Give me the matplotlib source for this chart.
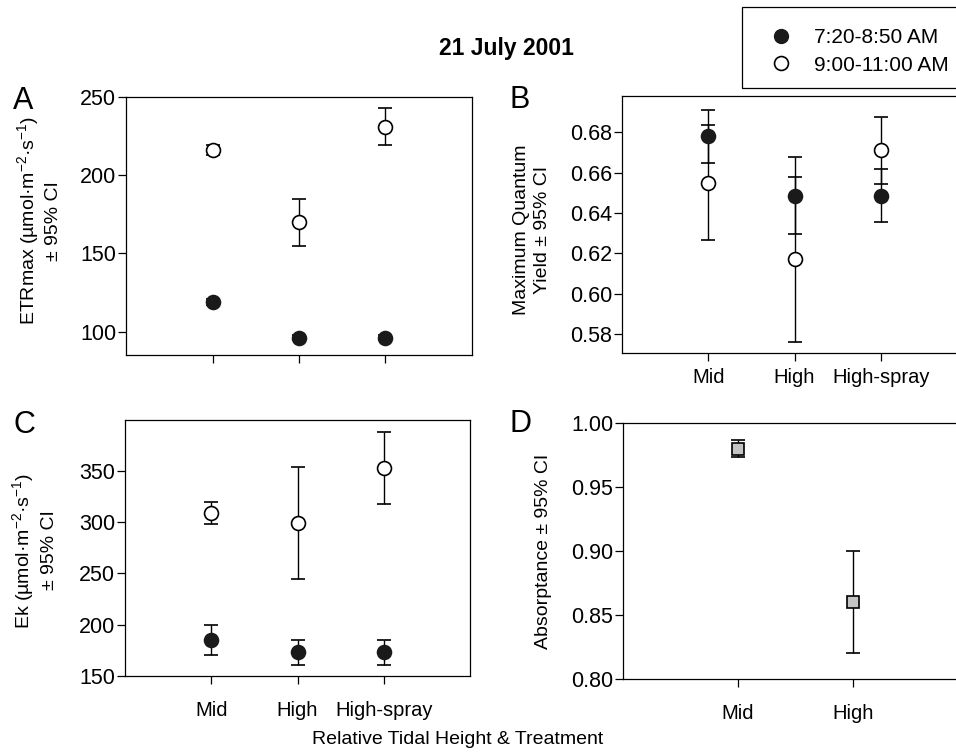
import matplotlib
matplotlib.use("Agg")
import matplotlib.pyplot as plt
from matplotlib.lines import Line2D
from matplotlib.patches import Rectangle

plt.rcParams['font.family'] = ['Liberation Sans', 'DejaVu Sans']
plt.rcParams['mathtext.fontset'] = 'custom'
plt.rcParams['mathtext.rm'] = 'Liberation Sans'
plt.rcParams['mathtext.it'] = 'Liberation Sans:italic'
plt.rcParams['mathtext.bf'] = 'Liberation Sans:bold'
plt.rcParams['axes.linewidth'] = 0.9

# data
sites = ['Mid', 'High', 'High-spray']
abs_sites = ['Mid', 'High']

etr_early = [119, 96, 96]
etr_early_ci = [2, 1.5, 1.5]
etr_late = [216, 170, 231]
etr_late_ci = [3, 15, 12]

fv_early = [0.678, 0.6486, 0.6486]
fv_early_ci = [0.013, 0.019, 0.013]
fv_late = [0.655, 0.617, 0.671]
fv_late_ci = [0.0285, 0.041, 0.0167]

ek_early = [185, 173, 173]
ek_early_ci = [15, 12.3, 12.3]
ek_late = [309, 299, 353]
ek_late_ci = [11, 54.5, 35]

absorp = [0.980, 0.860]
absorp_ci = [0.0068, 0.040]

early_label = '7:20-8:50 AM'
late_label = '9:00-11:00 AM'

W, H = 956, 752
FS = 14


def box(l, t, r, b):
    return [l / W, 1 - b / H, (r - l) / W, (b - t) / H]


fig = plt.figure(figsize=(W / 100, H / 100), dpi=100)

axA = fig.add_axes(box(126, 97, 472, 355))
axB = fig.add_axes(box(622, 96, 967, 353))
axC = fig.add_axes(box(125, 420, 470, 676))
axD = fig.add_axes(box(623, 423, 968, 679))


def draw_pair(ax, early, early_ci, late, late_ci):
    x = range(1, len(early) + 1)
    ax.errorbar(x, late, yerr=late_ci, fmt='o', color='black', mfc='white',
                mec='black', ms=10, mew=1.2, elinewidth=1, capsize=5,
                capthick=1, zorder=3)
    ax.errorbar(x, early, yerr=early_ci, fmt='o', color='black', mfc='#1a1a1a',
                mec='#1a1a1a', ms=10, mew=1.2, elinewidth=1, capsize=5,
                capthick=1, zorder=3)


def style(ax, pad_x):
    ax.tick_params(direction='out', length=6, width=0.9)
    ax.tick_params(axis='y', pad=1, labelsize=15.5)
    ax.tick_params(axis='x', pad=pad_x, labelsize=14.5)


# A
draw_pair(axA, etr_early, etr_early_ci, etr_late, etr_late_ci)
axA.set_xlim(0, 4)
axA.set_ylim(85, 250)
axA.set_xticks([1, 2, 3])
axA.set_xticklabels([])
axA.set_yticks([100, 150, 200, 250])
style(axA, 5)
axA.set_ylabel('ETRmax (µmol·m$^{-2}$·s$^{-1}$)\n± 95% CI', fontsize=FS,
               multialignment='center', linespacing=1.3)
axA.yaxis.set_label_coords(-0.185, 0.52)

# B
draw_pair(axB, fv_early, fv_early_ci, fv_late, fv_late_ci)
axB.set_xlim(0, 4)
axB.set_ylim(0.5705, 0.698)
axB.set_xticks([1, 2, 3])
axB.set_xticklabels(sites)
axB.set_yticks([0.58, 0.60, 0.62, 0.64, 0.66, 0.68])
axB.set_yticklabels(['%.2f' % v for v in [0.58, 0.60, 0.62, 0.64, 0.66, 0.68]])
style(axB, 5)
axB.set_ylabel('Maximum Quantum\nYield ± 95% CI', fontsize=FS,
               multialignment='center', linespacing=1.3)
axB.yaxis.set_label_coords(-0.205, 0.48)

# C
draw_pair(axC, ek_early, ek_early_ci, ek_late, ek_late_ci)
axC.set_xlim(0, 4)
axC.set_ylim(150, 399.5)
axC.set_xticks([1, 2, 3])
axC.set_xticklabels(sites)
axC.set_yticks([150, 200, 250, 300, 350])
style(axC, 12)
axC.set_ylabel('Ek (µmol·m$^{-2}$·s$^{-1}$)\n± 95% CI', fontsize=FS,
               multialignment='center', linespacing=1.4)
axC.yaxis.set_label_coords(-0.195, 0.49)

# D
axD.errorbar(range(1, len(absorp) + 1), absorp, yerr=absorp_ci, fmt='s',
             color='black', mfc='#c4c4c4', mec='black', ms=9, mew=1.2,
             elinewidth=1, capsize=5, capthick=1, zorder=3)
axD.set_xlim(0, 3)
axD.set_ylim(0.80, 1.00)
axD.set_xticks([1, 2])
axD.set_xticklabels(abs_sites)
axD.set_yticks([0.80, 0.85, 0.90, 0.95, 1.00])
axD.set_yticklabels(['%.2f' % v for v in [0.80, 0.85, 0.90, 0.95, 1.00]])
style(axD, 12)
axD.set_ylabel('Absorptance ± 95% CI', fontsize=FS)
axD.yaxis.set_label_coords(-0.205, 0.50)

# panel letters
for lab, (x, y) in zip('ABCD', [(23, 101), (520, 100), (24, 425), (520, 424)]):
    fig.text(x / W, 1 - y / H, lab, fontsize=22, ha='center', va='center')

fig.text(506 / W, 1 - 49 / H, '21 July 2001', fontsize=16.5, fontweight='bold',
         ha='center', va='center')
fig.text(458 / W, 1 - 739 / H, 'Relative Tidal Height & Treatment',
         fontsize=FS, ha='center', va='center')

# legend box (runs off the right edge like the original)
fig.patches.append(Rectangle((742 / W, 1 - 88 / H), 300 / W, 81 / H,
                             transform=fig.transFigure, fill=False,
                             edgecolor='black', linewidth=0.9))
handles = [
    Line2D([], [], ls='none', marker='o', ms=10, mfc='#1a1a1a', mec='#1a1a1a'),
    Line2D([], [], ls='none', marker='o', ms=10, mfc='white', mec='black', mew=1.2),
]
fig.legend(handles, [early_label, late_label], loc='upper left',
           bbox_to_anchor=(760 / W, 1 - 28 / H), frameon=False, fontsize=15,
           handletextpad=0.6, labelspacing=0.41, borderpad=0, borderaxespad=0)

fig.savefig('out.png', dpi=100)
